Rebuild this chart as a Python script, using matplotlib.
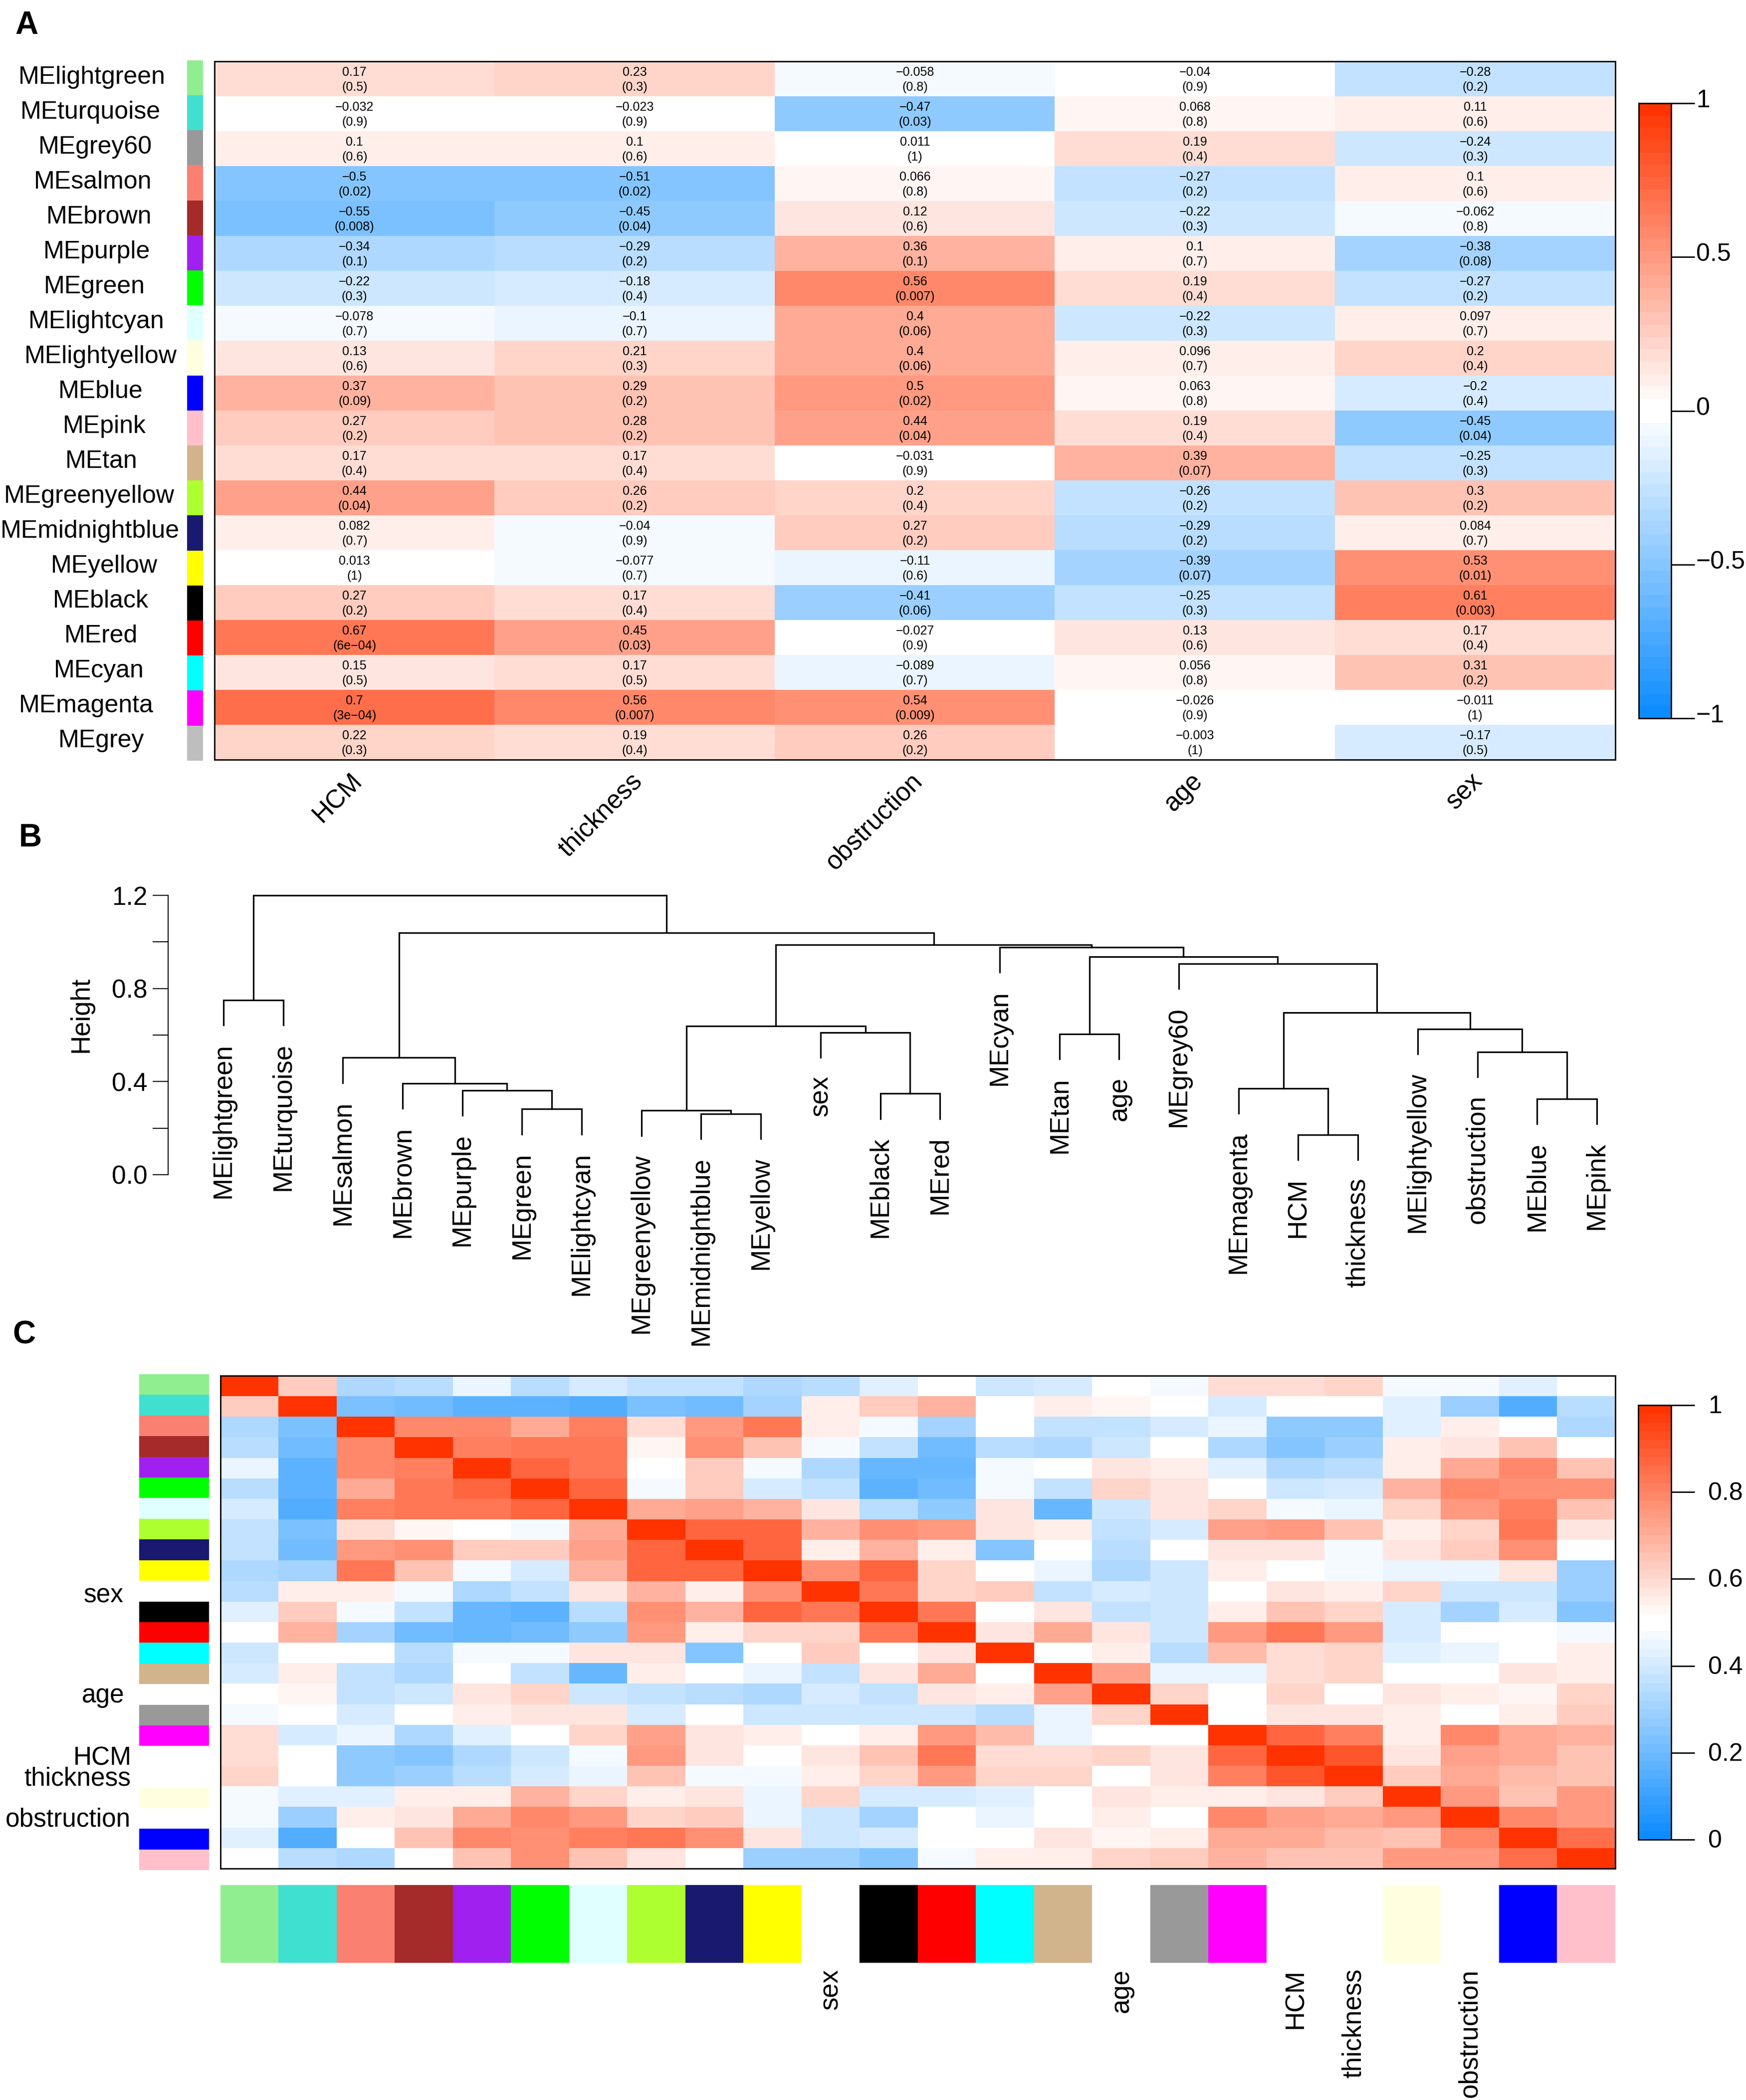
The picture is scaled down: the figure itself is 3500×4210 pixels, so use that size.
"""Module-trait heatmap, eigengene dendrogram and adjacency heatmap (WGCNA style)."""
import numpy as np
import matplotlib
matplotlib.use("Agg")
import matplotlib.pyplot as plt
from matplotlib.colors import ListedColormap, to_rgb

plt.rcParams["font.family"] = ["Liberation Sans", "DejaVu Sans"]

W, H, DPI = 3500, 4210, 100

# ---- panel A data ----
modules = ["MElightgreen", "MEturquoise", "MEgrey60", "MEsalmon", "MEbrown", "MEpurple", "MEgreen",
           "MElightcyan", "MElightyellow", "MEblue", "MEpink", "MEtan", "MEgreenyellow", "MEmidnightblue",
           "MEyellow", "MEblack", "MEred", "MEcyan", "MEmagenta", "MEgrey"]
module_colors = ["#90EE90", "#40E0D0", "#999999", "#FA8072", "#A52A2A", "#A020F0", "#00FF00",
                 "#E0FFFF", "#FFFFE0", "#0000FF", "#FFC0CB", "#D2B48C", "#ADFF2F", "#191970",
                 "#FFFF00", "#000000", "#FF0000", "#00FFFF", "#FF00FF", "#BEBEBE"]
traits = ["HCM", "thickness", "obstruction", "age", "sex"]
cor_text = [
    ["0.17", "0.23", "-0.058", "-0.04", "-0.28"],
    ["-0.032", "-0.023", "-0.47", "0.068", "0.11"],
    ["0.1", "0.1", "0.011", "0.19", "-0.24"],
    ["-0.5", "-0.51", "0.066", "-0.27", "0.1"],
    ["-0.55", "-0.45", "0.12", "-0.22", "-0.062"],
    ["-0.34", "-0.29", "0.36", "0.1", "-0.38"],
    ["-0.22", "-0.18", "0.56", "0.19", "-0.27"],
    ["-0.078", "-0.1", "0.4", "-0.22", "0.097"],
    ["0.13", "0.21", "0.4", "0.096", "0.2"],
    ["0.37", "0.29", "0.5", "0.063", "-0.2"],
    ["0.27", "0.28", "0.44", "0.19", "-0.45"],
    ["0.17", "0.17", "-0.031", "0.39", "-0.25"],
    ["0.44", "0.26", "0.2", "-0.26", "0.3"],
    ["0.082", "-0.04", "0.27", "-0.29", "0.084"],
    ["0.013", "-0.077", "-0.11", "-0.39", "0.53"],
    ["0.27", "0.17", "-0.41", "-0.25", "0.61"],
    ["0.67", "0.45", "-0.027", "0.13", "0.17"],
    ["0.15", "0.17", "-0.089", "0.056", "0.31"],
    ["0.7", "0.56", "0.54", "-0.026", "-0.011"],
    ["0.22", "0.19", "0.26", "-0.003", "-0.17"],
]
pval_text = [
    ["0.5", "0.3", "0.8", "0.9", "0.2"],
    ["0.9", "0.9", "0.03", "0.8", "0.6"],
    ["0.6", "0.6", "1", "0.4", "0.3"],
    ["0.02", "0.02", "0.8", "0.2", "0.6"],
    ["0.008", "0.04", "0.6", "0.3", "0.8"],
    ["0.1", "0.2", "0.1", "0.7", "0.08"],
    ["0.3", "0.4", "0.007", "0.4", "0.2"],
    ["0.7", "0.7", "0.06", "0.3", "0.7"],
    ["0.6", "0.3", "0.06", "0.7", "0.4"],
    ["0.09", "0.2", "0.02", "0.8", "0.4"],
    ["0.2", "0.2", "0.04", "0.4", "0.04"],
    ["0.4", "0.4", "0.9", "0.07", "0.3"],
    ["0.04", "0.2", "0.4", "0.2", "0.2"],
    ["0.7", "0.9", "0.2", "0.2", "0.7"],
    ["1", "0.7", "0.6", "0.07", "0.01"],
    ["0.2", "0.4", "0.06", "0.3", "0.003"],
    ["6e-04", "0.03", "0.9", "0.6", "0.4"],
    ["0.5", "0.5", "0.7", "0.8", "0.2"],
    ["3e-04", "0.007", "0.009", "0.9", "1"],
    ["0.3", "0.4", "0.2", "1", "0.5"],
]
# centres of the row labels, they are not quite aligned in the original
row_label_x = [184, 181, 191, 186, 199, 194, 189, 193, 202, 202, 209, 203, 179, 180, 209, 202, 203, 198, 173, 203]
cbar_a_ticks = [1, 0.5, 0, -0.5, -1]

# ---- panel B data: merges as in hclust, negative = leaf, positive = earlier merge + 1 ----
leaves = ["MElightgreen", "MEturquoise", "MEsalmon", "MEbrown", "MEpurple", "MEgreen", "MElightcyan",
          "MEgreenyellow", "MEmidnightblue", "MEyellow", "sex", "MEblack", "MEred", "MEcyan", "MEtan",
          "age", "MEgrey60", "MEmagenta", "HCM", "thickness", "MElightyellow", "obstruction",
          "MEblue", "MEpink"]
leaf_colors = ["#90EE90", "#40E0D0", "#FA8072", "#A52A2A", "#A020F0", "#00FF00", "#E0FFFF",
               "#ADFF2F", "#191970", "#FFFF00", "#FFFFFF", "#000000", "#FF0000", "#00FFFF", "#D2B48C",
               "#FFFFFF", "#999999", "#FF00FF", "#FFFFFF", "#FFFFFF", "#FFFFE0", "#FFFFFF",
               "#0000FF", "#FFC0CB"]
merge_left = [-1, -6, -5, -4, -3, -9, -8, -12, -11, 7, -15, -19, -18, -23, -22, -21, 13, -17, 11, -14, 10, 5, 1]
merge_right = [-2, -7, 2, 3, 4, -10, 6, -13, 8, 9, -16, -20, 12, -24, 14, 15, 16, 17, 18, 19, 20, 21, 22]
merge_height = [0.751, 0.282, 0.363, 0.392, 0.503, 0.262, 0.276, 0.349, 0.611, 0.639, 0.605, 0.172,
                0.371, 0.326, 0.528, 0.626, 0.697, 0.907, 0.936, 0.977, 0.988, 1.04, 1.2]
HANG = 0.108

# ---- panel C data: upper triangle of the heatmap, row by row starting at the diagonal ----
adj_upper = [
    [1, .63, .33, .35, .45, .35, .41, .36, .36, .33, .35, .43, .5, .38, .40, .5, .47, .59, .59, .60, .47, .47, .43, .5],
    [1, .23, .21, .16, .17, .14, .22, .21, .31, .55, .63, .68, .5, .55, .53, .5, .41, .5, .5, .42, .29, .14, .35],
    [1, .78, .78, .70, .80, .59, .75, .83, .55, .47, .30, .5, .36, .36, .40, .44, .26, .26, .42, .54, .5, .32],
    [1, .80, .82, .82, .53, .76, .64, .46, .36, .21, .34, .32, .39, .5, .33, .24, .28, .54, .56, .64, .5],
    [1, .87, .82, .5, .62, .46, .32, .18, .18, .47, .5, .56, .54, .43, .32, .35, .54, .70, .79, .64],
    [1, .87, .47, .62, .41, .36, .17, .20, .47, .37, .60, .58, .5, .38, .41, .68, .79, .77, .76],
    [1, .71, .73, .68, .56, .35, .27, .57, .18, .38, .56, .61, .47, .44, .61, .74, .81, .65],
    [1, .87, .87, .68, .76, .74, .58, .54, .37, .41, .72, .74, .65, .54, .60, .82, .58],
    [1, .87, .55, .68, .55, .25, .5, .35, .5, .58, .56, .47, .58, .63, .76, .5],
    [1, .77, .86, .60, .5, .44, .32, .38, .55, .5, .46, .44, .44, .58, .28],
    [1, .82, .60, .63, .37, .41, .38, .5, .56, .54, .61, .38, .38, .28],
    [1, .83, .5, .56, .36, .38, .55, .64, .60, .41, .31, .40, .25],
    [1, .58, .71, .58, .38, .75, .83, .74, .41, .5, .5, .46],
    [1, .5, .54, .35, .66, .59, .60, .43, .44, .5, .54],
    [1, .72, .44, .44, .59, .60, .5, .5, .56, .54],
    [1, .60, .5, .60, .5, .56, .54, .53, .60],
    [1, .5, .57, .56, .54, .5, .55, .63],
    [1, .87, .80, .54, .79, .71, .68],
    [1, .91, .57, .73, .71, .65],
    [1, .62, .70, .66, .64],
    [1, .74, .64, .75],
    [1, .78, .75],
    [1, .84],
    [1],
]
cbar_c_ticks = [1, 0.8, 0.6, 0.4, 0.2, 0]
# right end of each side label (px) and how far it sits below the row centre
side_labels = {"sex": (248, 9), "age": (250, 3), "HCM": (264, 5), "thickness": (262, 5), "obstruction": (262, 5)}


def blue_white_red(n=50):
    # same ramp as WGCNA::blueWhiteRed
    frac = np.arange(n // 2) / (n // 2 - 1)
    blue = np.array([0.05, 0.55, 1.0])
    red = np.array([1.0, 0.2, 0.0])
    low = [blue + (1 - blue) * f for f in frac]
    high = [red + (1 - red) * f for f in frac[::-1]]
    return ListedColormap(low + high)


def px_axes(fig, left, top, right, bottom):
    return fig.add_axes([left / W, 1 - bottom / H, (right - left) / W, (bottom - top) / H])


def minus(s):
    return s.replace("-", "\u2212", 1) if s.startswith("-") else s


def frame(ax, lw=2):
    for s in ax.spines.values():
        s.set_linewidth(lw)


def color_strip(ax, colors, vertical=True):
    rgb = np.array([to_rgb(c) for c in colors])
    rgb = rgb[:, None, :] if vertical else rgb[None, :, :]
    ax.imshow(rgb, aspect="auto", interpolation="nearest")
    ax.axis("off")


def colorbar(fig, box, cmap, vmin, vmax, ticks, label_dx, label_dy):
    ax = px_axes(fig, *box)
    edges = np.linspace(vmin, vmax, cmap.N + 1)
    ax.pcolormesh([0, 1], edges, ((edges[:-1] + edges[1:]) / 2)[:, None], cmap=cmap, vmin=vmin, vmax=vmax)
    ax.set_xticks([])
    ax.yaxis.tick_right()
    ax.set_yticks(ticks)
    ax.set_yticklabels([])
    ax.tick_params(axis="y", length=34, width=2)
    frame(ax)
    for t in ticks:
        ax.annotate(minus(f"{t:g}"), xy=(1, t), xycoords=("axes fraction", "data"),
                    xytext=(label_dx, label_dy), textcoords="offset pixels",
                    ha="left", va="center", fontsize=36)


fig = plt.figure(figsize=(W / DPI, H / DPI), dpi=DPI)
cmap = blue_white_red()

# ---- A: module-trait relationships ----
cor_vals = np.array([[float(v) for v in row] for row in cor_text])
cor_vals[13, 1] = -0.042  # shown as -0.04 but drawn one level below white in the original
ax = px_axes(fig, 430, 123, 3238, 1523)
ax.imshow(cor_vals, cmap=cmap, vmin=-1, vmax=1, aspect="auto", interpolation="nearest")
for i in range(len(modules)):
    for j in range(len(traits)):
        ax.text(j, i - 0.18, minus(cor_text[i][j]), ha="center", va="center", fontsize=18)
        ax.text(j, i + 0.24, f"({minus(pval_text[i][j])})".replace("e-", "e\u2212"),
                ha="center", va="center", fontsize=18)
ax.set_xticks([])
ax.set_yticks([])
frame(ax)
for j, name in enumerate(traits):
    ax.annotate(name, xy=(j, 0), xycoords=("data", "axes fraction"), xytext=(-10, -18),
                textcoords="offset pixels", rotation=45, rotation_mode="anchor",
                ha="right", va="top", fontsize=37)
for i, name in enumerate(modules):
    fig.text(row_label_x[i] / W, 1 - (158 + 70 * i - 3) / H, name, ha="center", va="center", fontsize=36)
color_strip(px_axes(fig, 375, 121, 407, 1525), module_colors)
colorbar(fig, (3285, 207, 3350, 1440), cmap, -1, 1, cbar_a_ticks, 50, 5)

# ---- B: dendrogram ----
ax = px_axes(fig, 337, 1795, 3238, 2355)
ax.set_xlim(-0.927, 23.31)
ax.set_ylim(0, 1.2)
ax.patch.set_visible(False)
for side in ["top", "right", "bottom"]:
    ax.spines[side].set_visible(False)
ax.spines["left"].set_linewidth(1.5)
ax.set_xticks([])
ax.set_yticks([0, 0.2, 0.4, 0.6, 0.8, 1.0, 1.2])
ax.set_yticklabels(["0.0", "", "0.4", "", "0.8", "", "1.2"], fontsize=37)
ax.tick_params(axis="y", length=22, width=1.5, pad=8)
ax.set_ylabel("Height", fontsize=38, labelpad=26, y=0.573)

node_x = []
for left, right, h in zip(merge_left, merge_right, merge_height):
    xs, tops = [], []
    for child in (left, right):
        if child < 0:
            leaf = -child - 1
            xs.append(leaf)
            tops.append(h - HANG)
            ax.text(leaf, h - HANG - 0.077, leaves[leaf], rotation=90, ha="center", va="top", fontsize=38)
        else:
            xs.append(node_x[child - 1])
            tops.append(merge_height[child - 1])
    ax.plot([xs[0], xs[0], xs[1], xs[1]], [tops[0], h, h, tops[1]], color="black", lw=2.3, clip_on=False,
            solid_joinstyle="miter")
    node_x.append(sum(xs) / 2)

# ---- C: adjacency heatmap ----
n = len(leaves)
adj = np.zeros((n, n))
for i, row in enumerate(adj_upper):
    adj[i, i:] = row
    adj[i:, i] = row
ax = px_axes(fig, 442, 2758, 3238, 3746)
ax.imshow(adj, cmap=cmap, vmin=0, vmax=1, aspect="auto", interpolation="nearest")
ax.set_xticks([])
ax.set_yticks([])
frame(ax)
for i, name in enumerate(leaves):
    if name in side_labels:
        right_x, below = side_labels[name]
        ax.annotate(name, xy=(0, i), xycoords=("axes fraction", "data"),
                    xytext=(right_x - 442, -below), textcoords="offset pixels",
                    ha="right", va="center", fontsize=37)
        ax.annotate(name, xy=(i, 0), xycoords=("data", "axes fraction"), xytext=(0, -(3947 - 3746)),
                    textcoords="offset pixels", rotation=90, ha="center", va="top", fontsize=38,
                    annotation_clip=False)
color_strip(px_axes(fig, 279, 2755, 419, 3749), leaf_colors)
color_strip(px_axes(fig, 442, 3779, 3238, 3935), leaf_colors, vertical=False)
colorbar(fig, (3284, 2817, 3350, 3688), cmap, 0, 1, cbar_c_ticks, 74, -3)

# ---- panel letters ----
for letter, x, y in [("A", 30, 51), ("B", 38, 1680), ("C", 25, 2677)]:
    fig.text(x / W, 1 - y / H, letter, fontsize=46, fontweight="bold", ha="left", va="center")

fig.savefig("out.png", dpi=DPI)
plt.close(fig)
